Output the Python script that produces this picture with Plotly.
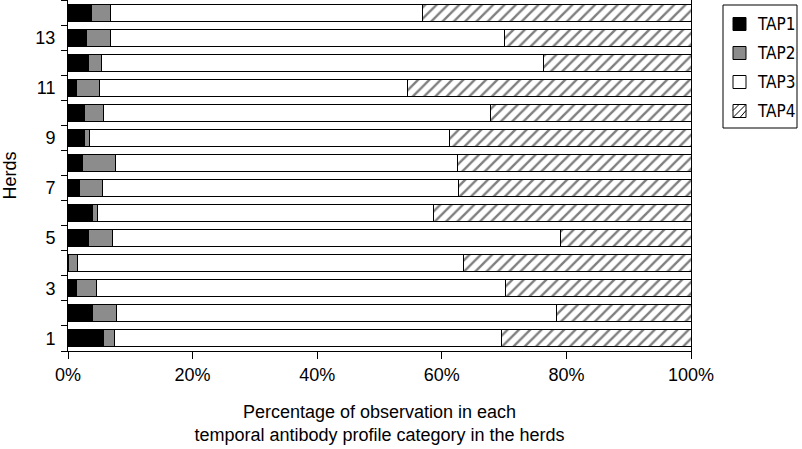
import plotly.graph_objects as go

herds = list(range(1, 15))
tap1 = [5.7, 3.9, 1.3, 0.0, 3.3, 4.0, 1.8, 2.4, 2.6, 2.6, 1.3, 3.3, 2.9, 3.7]
tap2 = [1.7, 3.9, 3.2, 1.6, 3.9, 0.8, 3.8, 5.3, 0.8, 3.1, 3.7, 2.0, 4.0, 3.1]
tap3 = [62.2, 70.6, 65.8, 61.9, 71.9, 53.8, 57.0, 54.8, 57.8, 62.1, 49.5, 71.0, 63.1, 50.1]
tap4 = [30.4, 21.6, 29.7, 36.5, 20.9, 41.4, 37.4, 37.5, 38.8, 32.2, 45.5, 23.7, 30.0, 43.1]
series_names = ["TAP1", "TAP2", "TAP3", "TAP4"]
ytick_vals = [1, 3, 5, 7, 9, 11, 13]
xtick_vals = [0, 20, 40, 60, 80, 100]
xtick_text = ["0%", "20%", "40%", "60%", "80%", "100%"]

FONT = "Liberation Sans, Arial, Helvetica, sans-serif"
NARROW = "DejaVu Sans Condensed, Liberation Sans Narrow, Arial Narrow, Liberation Sans, sans-serif"
W, H = 802, 449
ML, MR, MT, MB = 68, 111, 0, 98
PW, PH = W - ML - MR, H - MT - MB


def px(xp):
    return (xp - ML) / PW


def py(yp):
    return 1 - (yp - MT) / PH


fig = go.Figure()
colors = ["black", "#8c8c8c", "white", "white"]
for i, (name, vals) in enumerate(zip(series_names, [tap1, tap2, tap3, tap4])):
    mk = dict(color=colors[i], line=dict(color="black", width=1))
    if name == "TAP4":
        mk["pattern"] = dict(shape="/", fgcolor="black", bgcolor="white",
                             size=8, solidity=0.3)
    fig.add_trace(go.Bar(
        x=vals, y=herds, orientation="h", name=name, marker=mk,
        width=0.68, showlegend=False, hoverinfo="skip",
    ))

# manual legend
shapes = []
annotations = []
shapes.append(dict(type="rect", xref="paper", yref="paper",
                   x0=px(723), x1=px(797), y0=py(5), y1=py(128),
                   line=dict(color="black", width=1), fillcolor="white", layer="above"))
centers = [24, 53, 82, 111]
for i, (name, cy) in enumerate(zip(series_names, centers)):
    x0, x1 = 733, 746
    y0, y1 = cy - 6.5, cy + 6.5
    shapes.append(dict(type="rect", xref="paper", yref="paper",
                       x0=px(x0), x1=px(x1), y0=py(y1), y1=py(y0),
                       line=dict(color="black", width=1), fillcolor=colors[i], layer="above"))
    if name == "TAP4":
        segs = [((x0, y0 + 6), (x0 + 6, y0)), ((x0, y1), (x1, y0)), ((x0 + 7, y1), (x1, y1 - 7))]
        for (ax, ay), (bx, by) in segs:
            shapes.append(dict(type="line", xref="paper", yref="paper",
                               x0=px(ax), y0=py(ay), x1=px(bx), y1=py(by),
                               line=dict(color="black", width=1), layer="above"))
    annotations.append(dict(text=name, xref="paper", yref="paper",
                            x=px(755), y=py(cy), xanchor="left", yanchor="middle",
                            showarrow=False, font=dict(family=NARROW, size=17, color="black")))

fig.update_layout(
    barmode="stack",
    width=W, height=H,
    margin=dict(l=ML, r=MR, t=MT, b=MB),
    paper_bgcolor="white", plot_bgcolor="white",
    font=dict(family=FONT, size=18, color="black"),
    showlegend=False,
    shapes=shapes, annotations=annotations,
)
fig.update_xaxes(
    range=[0, 100], tickvals=xtick_vals, ticktext=xtick_text,
    showgrid=False, zeroline=False, automargin=False,
    showline=True, linecolor="black", linewidth=1,
    ticks="outside", ticklen=7, tickcolor="black",
    title=dict(text="Percentage of observation in each<br>temporal antibody profile category in the herds",
               font=dict(size=18), standoff=21),
)
fig.update_yaxes(
    range=[0.5, 14.5], tickvals=ytick_vals, ticktext=[str(v) for v in ytick_vals],
    showgrid=False, zeroline=False, automargin=False,
    showline=True, linecolor="black", linewidth=1, mirror=True,
    ticks="", ticklabelstandoff=8,
    minor=dict(tickmode="array", tickvals=[i + 0.5 for i in range(0, 15)],
               ticks="outside", ticklen=6, tickcolor="black", showgrid=False),
    title=dict(text="Herds", font=dict(size=18), standoff=16),
)

fig.write_html("out.html", config={"displayModeBar": False},
               post_script="document.body.style.margin='0px';")
